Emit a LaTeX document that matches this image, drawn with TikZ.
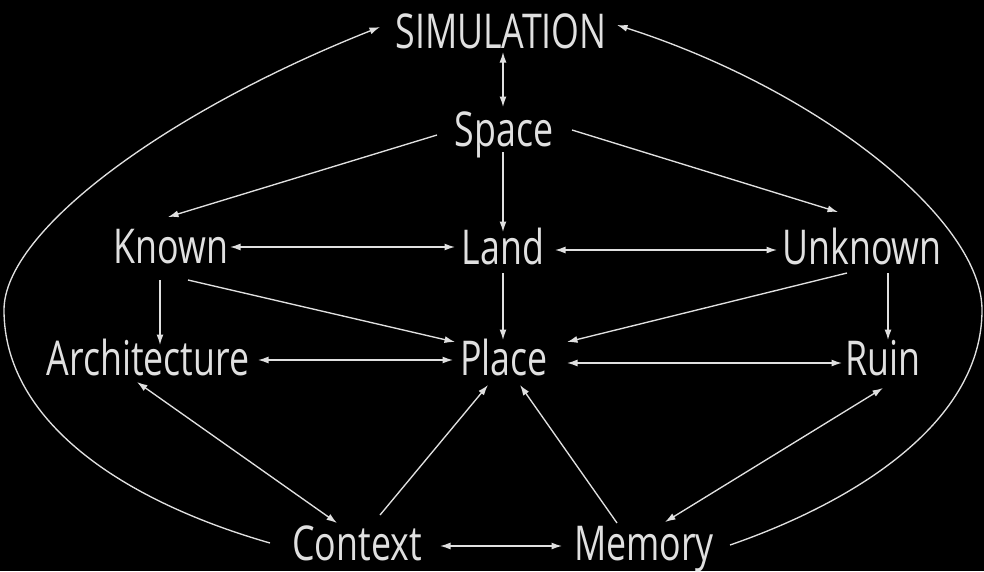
\documentclass[tikz,border=0pt]{standalone}
\usepackage{fontspec}
\setmainfont[FakeStretch=0.745]{Open Sans}
\usetikzlibrary{arrows.meta,calc}
\definecolor{ink}{HTML}{E0E0E0}
\tikzset{
  lbl/.style={text=ink, font=\fontsize{48}{50}\selectfont, inner sep=0pt,
              text height=34pt, text depth=0pt, anchor=center},
  con/.style={draw=ink, line width=1.35pt},
  tip/.style={-{Latex[length=10.5pt,width=7pt]}},
  tips/.style={{Latex[length=10.5pt,width=7pt]}-{Latex[length=10.5pt,width=7pt]}}
}
\begin{document}
\begin{tikzpicture}[x=1pt,y=-1pt]
\fill[black] (0,0) rectangle (984,571);
\useasboundingbox (0,0) rectangle (984,571);
\node[lbl] (sim) at (501,31) {SIMULATION};
\node[lbl] (space) at (504,129) {Space};
\node[lbl] (known) at (171,246) {Known};
\node[lbl] (land) at (503,247) {Land};
\node[lbl] (unknown) at (862,247) {Unknown};
\node[lbl] (arch) at (148,358) {Architecture};
\node[lbl] (place) at (504,358) {Place};
\node[lbl] (ruin) at (883,358) {Ruin};
\node[lbl] (context) at (357,543) {Context};
\node[lbl] (memory) at (644,543) {Memory};
% connectors
\draw[con,tips] ($(sim)+(2,21)$) -- ($(space)+(-1,-22)$);
\draw[con,tip] ($(space)+(-67,6)$) -- ($(known)+(-3,-29)$);
\draw[con,tip] ($(space)+(68,1)$) -- ($(unknown)+(-24,-35)$);
\draw[con,tip] ($(space)+(-1,23)$) -- ($(land)+(0,-15)$);
\draw[con,tips] ($(known)+(59,1)$) -- ($(land)+(-48,0)$);
\draw[con,tips] ($(land)+(52,3)$) -- ($(unknown)+(-85,3)$);
\draw[con,tip] ($(known)+(-11,34)$) -- ($(arch)+(12,-13)$);
\draw[con,tip] ($(known)+(17,34)$) -- ($(place)+(-49,-16)$);
\draw[con,tip] ($(land)+(0,26)$) -- ($(place)+(-1,-18)$);
\draw[con,tip] ($(unknown)+(-15,26)$) -- ($(place)+(63,-16)$);
\draw[con,tip] ($(unknown)+(26,26)$) -- ($(ruin)+(5,-18)$);
\draw[con,tips] ($(arch)+(110,2)$) -- ($(place)+(-51,2)$);
\draw[con,tips] ($(place)+(63,5)$) -- ($(ruin)+(-41,5)$);
\draw[con,tips] ($(arch)+(-11,24)$) -- ($(context)+(-20,-20)$);
\draw[con,tip] ($(context)+(23,-28)$) -- ($(place)+(-16,27)$);
\draw[con,tip] ($(memory)+(-27,-20)$) -- ($(place)+(16,27)$);
\draw[con,tips] ($(ruin)+(0,30)$) -- ($(memory)+(21,-21)$);
\draw[con,tips] ($(context)+(83,3)$) -- ($(memory)+(-82,3)$);
% outer curves
\draw[con,tip] ($(context)+(-87,0)$) .. controls (120,500) and (4,420) .. (4,310)
  .. controls (4,230) and (170,110) .. ($(sim)+(-121,-4)$);
\draw[con,tip] ($(memory)+(86,2)$) .. controls (860,500) and (982,420) .. (982,310)
  .. controls (982,220) and (820,90) .. ($(sim)+(116,-6)$);
\end{tikzpicture}
\end{document}
